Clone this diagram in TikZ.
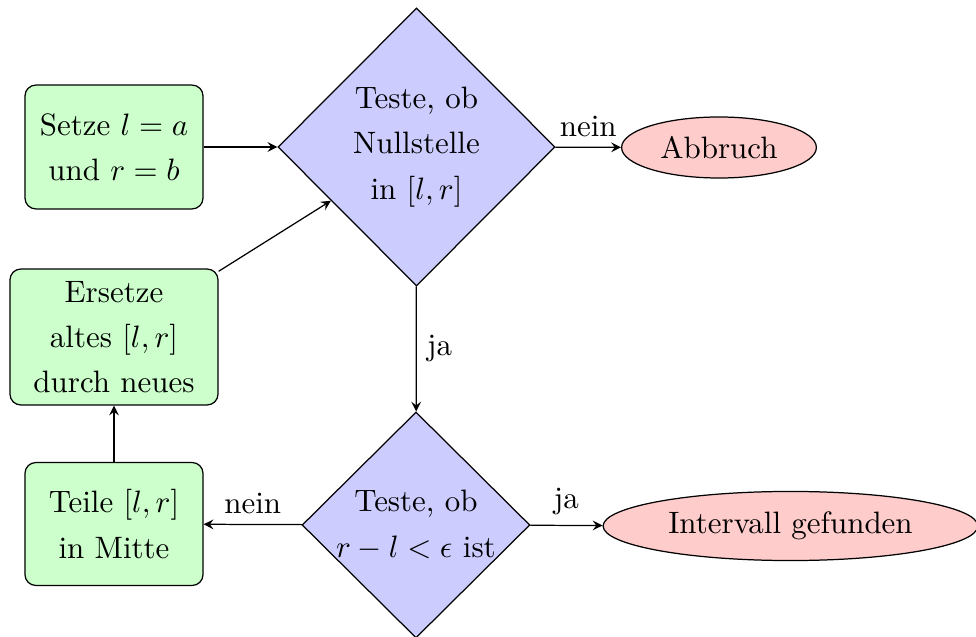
\documentclass[tikz,border=0pt]{standalone}
\usetikzlibrary{shapes.geometric,arrows}
\begin{document}
\begin{tikzpicture}[x=0.323pt,y=-0.323pt,
  every node/.style={font=\fontsize{10}{14.6}\selectfont},
  box/.style={draw, fill=green!20, rounded corners=3.5pt, align=center, inner sep=0pt},
  dia/.style={draw, fill=blue!20, diamond, inner sep=0pt},
  term/.style={draw, fill=red!20, ellipse},
  txt/.style={align=center, inner sep=0pt},
  arr/.style={-stealth}]
\useasboundingbox (0,0) rectangle (976,637);
% boxes
\node[box, minimum width=57.5pt, minimum height=40pt] (setze) at (114,147) {Setze $l=a$\\und $r=b$};
\node[box, minimum width=67.2pt, minimum height=43.9pt] (ersetze) at (114,337) {Ersetze\\altes $[l,r]$\\durch neues};
\node[box, minimum width=57.5pt, minimum height=39.7pt] (teile) at (114,524) {Teile $[l,r]$\\in Mitte};
% diamonds
\node[dia, minimum width=89.5pt, minimum height=89.8pt] (d1) at (416.5,147) {};
\node[txt] (d1t) at (d1) {Teste, ob\\Nullstelle\\in $[l,r]$};
\node[dia, minimum width=73.6pt, minimum height=73pt] (d2) at (416,525) {};
\node[txt] (d2t) at (d2) {Teste, ob\\$r-l<\epsilon$ ist};
% terminals
\node[term] (abbruch) at (719,147.5) {Abbruch};
\node[term] (gefunden) at (790.5,526) {Intervall gefunden};
% connectors
\draw[arr] (setze) -- (d1);
\draw[arr] (d1) -- node[above] {nein} (abbruch);
\draw[arr] (d1) -- node[right] {ja} (d2);
\draw[arr] (d2) -- node[above] {nein} (teile);
\draw[arr] (d2) -- node[above] {ja} (gefunden);
\draw[arr] (teile) -- (ersetze);
\draw[arr] (ersetze) -- (d1);
\end{tikzpicture}
\end{document}
